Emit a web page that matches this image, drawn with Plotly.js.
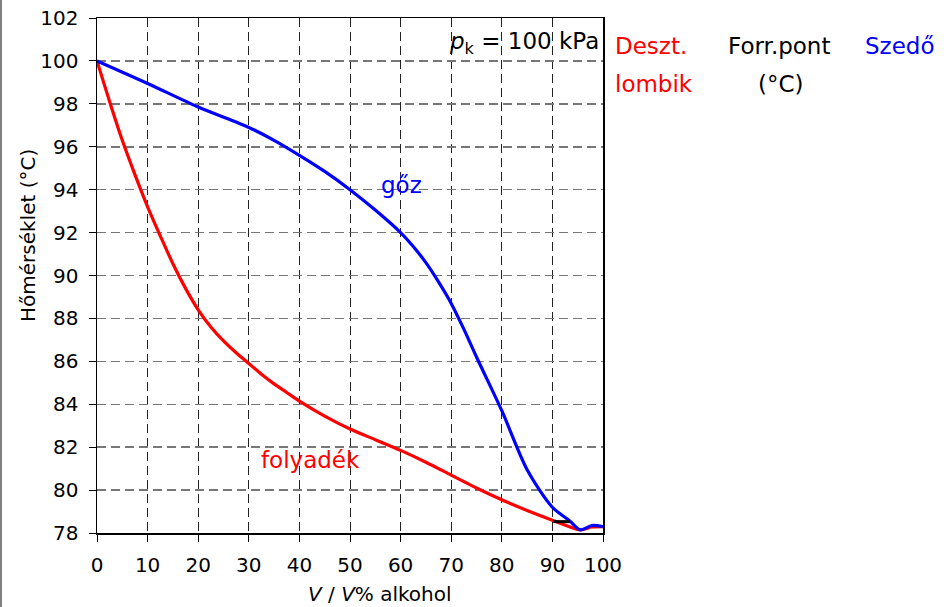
<!DOCTYPE html>
<html>
<head>
<meta charset="utf-8">
<script src="https://cdn.plot.ly/plotly-3.0.1.min.js"></script>
<style>html,body{margin:0;padding:0;background:#fff;}#chart{width:947px;height:607px;}</style>
</head>
<body>
<div id="chart"></div>
<script>
// Liquid (folyadék) boiling curve
const liquidX = [0, 2.5, 5, 7.5, 10, 12.5, 15, 17.5, 20, 22.5, 25, 27.5, 30, 32.5, 35, 37.5, 40, 45, 50, 55, 60, 65, 70, 75, 80, 85, 90, 95.5, 97.8, 100];
const liquidY = [100, 98.1, 96.3, 94.7, 93.2, 91.85, 90.55, 89.4, 88.4, 87.6, 86.95, 86.4, 85.9, 85.4, 84.95, 84.55, 84.15, 83.45, 82.85, 82.35, 81.85, 81.3, 80.7, 80.1, 79.55, 79.05, 78.6, 78.15, 78.28, 78.3];
// Vapour (gőz) curve
const vaporX = [0, 10, 20, 30, 35, 40, 45, 50, 55, 60, 62.5, 65, 67.5, 70, 72.5, 75, 80, 85, 90, 93.5, 95.5, 97.8, 100];
const vaporY = [100, 98.95, 97.85, 96.9, 96.3, 95.6, 94.85, 94.0, 93.05, 92.0, 91.35, 90.6, 89.7, 88.7, 87.5, 86.2, 83.7, 80.95, 79.2, 78.55, 78.15, 78.35, 78.3];
// Short black segment near the azeotrope
const tieX = [90.2, 93.5];
const tieY = [78.53, 78.53];

const xTicks = [0, 10, 20, 30, 40, 50, 60, 70, 80, 90, 100];
const yTicks = [78, 80, 82, 84, 86, 88, 90, 92, 94, 96, 98, 100, 102];

const FONT = "DejaVu Sans";
const L = 97, R = 603, T = 18, B = 533;
const px = v => (v - L) / (R - L);
const py = v => (B - v) / (B - T);

const traces = [
  {x: liquidX, y: liquidY, type: 'scatter', mode: 'lines', line: {color: '#ff0000', width: 3.2, shape: 'spline', smoothing: 0.8}, hoverinfo: 'skip'},
  {x: vaporX, y: vaporY, type: 'scatter', mode: 'lines', line: {color: '#0000ff', width: 3.2, shape: 'spline', smoothing: 0.8}, hoverinfo: 'skip'},
  {x: tieX, y: tieY, type: 'scatter', mode: 'lines', line: {color: '#000000', width: 3}, hoverinfo: 'skip'}
];

function ann(x, y, text, size, color, xanchor, xref, yref, extra) {
  return Object.assign({xref: xref || 'paper', yref: yref || 'paper', x: x, y: y, text: text,
    xanchor: xanchor || 'center', yanchor: 'middle', showarrow: false,
    font: {family: FONT, size: size, color: color}}, extra || {});
}

const layout = {
  width: 947, height: 607,
  margin: {l: L, r: 947 - R, t: T, b: 607 - B, pad: 0},
  paper_bgcolor: '#ffffff', plot_bgcolor: '#ffffff',
  showlegend: false,
  font: {family: FONT, size: 20, color: '#000'},
  xaxis: {
    range: [0, 100], tickvals: xTicks, ticktext: xTicks.map(String),
    showline: true, linecolor: '#000', linewidth: 1.5, mirror: true,
    ticks: 'outside', ticklen: 7, tickcolor: '#000', tickwidth: 1,
    showgrid: true, gridcolor: '#222', gridwidth: 1, griddash: '9px,5px',
    zeroline: false, tickfont: {family: FONT, size: 20, color: '#000'},
    ticklabelstandoff: 6
  },
  yaxis: {
    range: [78, 102], tickvals: yTicks, ticktext: yTicks.map(String),
    showline: true, linecolor: '#000', linewidth: 1.5, mirror: true,
    ticks: 'outside', ticklen: 7, tickcolor: '#000', tickwidth: 1,
    showgrid: true, gridcolor: '#777', gridwidth: 1.5, griddash: '9px,5px',
    zeroline: false, tickfont: {family: FONT, size: 20, color: '#000'},
    ticklabelstandoff: 6
  },
  shapes: [
    {type: 'line', xref: 'paper', yref: 'paper', x0: px(1), x1: px(1), y0: py(620), y1: py(-10), line: {color: '#808080', width: 2}}
  ],
  annotations: [
    ann(px(28), py(236), 'Hőmérséklet (°C)', 20, '#000', 'center', 'paper', 'paper', {textangle: -90}),
    ann(px(380), py(594), '<i>V</i> / <i>V</i>% alkohol', 20, '#000'),
    ann(99.6, 100.83, '<i>p</i><sub>k</sub> = 100 kPa', 23, '#000', 'right', 'x', 'y'),
    ann(px(613), py(46), 'Deszt.', 23, '#ff0000', 'left'),
    ann(px(613), py(84), 'lombik', 23, '#ff0000', 'left'),
    ann(px(726), py(46), 'Forr.pont', 23, '#000', 'left'),
    ann(px(756), py(84), '(°C)', 23, '#000', 'left'),
    ann(px(863), py(46), 'Szedő', 23, '#0000ff', 'left'),
    ann(60.1, 94.2, 'gőz', 23, '#0000ff', 'center', 'x', 'y'),
    ann(42.1, 81.4, 'folyadék', 23, '#ff0000', 'center', 'x', 'y')
  ]
};

Plotly.newPlot('chart', traces, layout, {staticPlot: true, displayModeBar: false});
</script>
</body>
</html>
